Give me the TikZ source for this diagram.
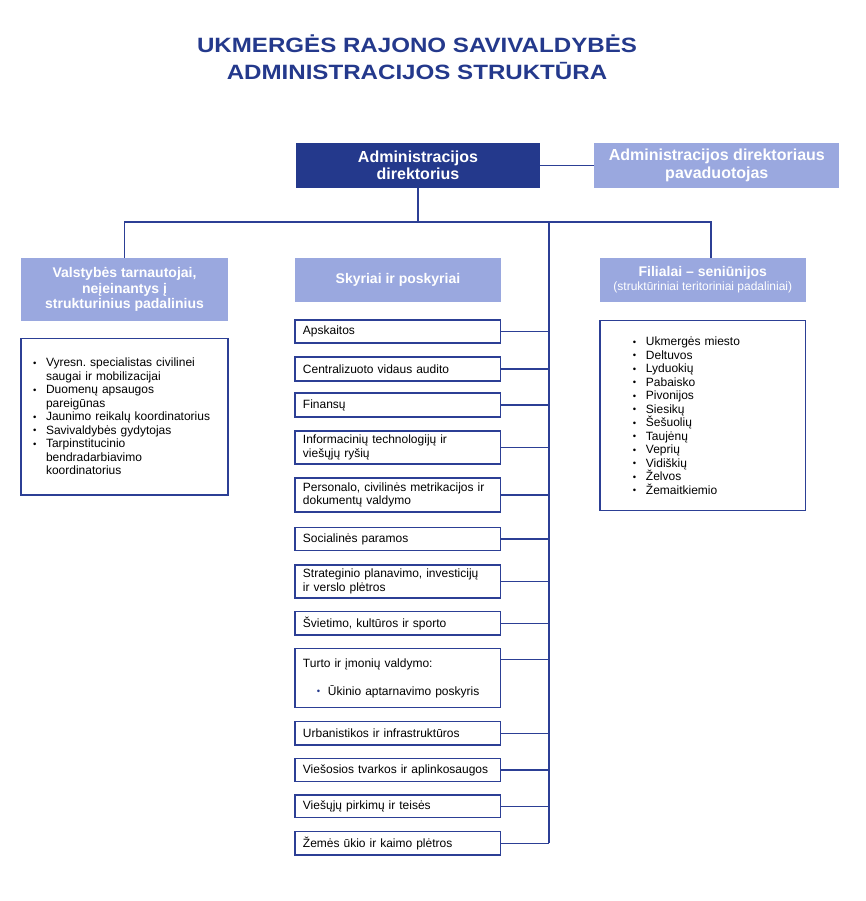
\documentclass[tikz,border=0pt]{standalone}
\usepackage{fontspec}
\setmainfont{Liberation Sans}
\newfontfamily\titlefont[FakeStretch=1.165]{Liberation Sans}
\usetikzlibrary{calc}
\frenchspacing
\definecolor{darkb}{RGB}{36,57,140}
\definecolor{lightb}{RGB}{154,168,223}
\definecolor{lineb}{RGB}{44,63,149}
\newcommand\bul{\makebox[13pt][l]{\raisebox{0.6pt}{\fontsize{9.5}{9}\selectfont •}}}
\newcommand\ind{\hspace*{13pt}}
\tikzset{
  head/.style={fill=lightb, text=white, font=\fontsize{14}{15.8}\selectfont\bfseries, align=center, inner sep=0pt},
  subbox/.style={draw=lineb, line width=1.5pt, fill=white, minimum height=#1, text width=189.7pt, inner xsep=8pt, inner ysep=0pt, align=left, font=\fontsize{12}{13.5}\selectfont},
  listbox/.style={draw=lineb, line width=1.5pt, fill=white, align=left, inner ysep=0pt, font=\fontsize{12}{13.5}\selectfont},
  conn/.style={draw=lineb, line width=1.5pt}
}
\begin{document}
\begin{tikzpicture}[x=1pt,y=-1pt]
\useasboundingbox (0,0) rectangle (865,901);
% title
\node[text=darkb, font=\titlefont\fontsize{20.7}{27}\selectfont\bfseries, align=center] (title) at (417,57) {UKMERGĖS RAJONO SAVIVALDYBĖS\\ADMINISTRACIJOS STRUKTŪRA};
% top boxes
\node[fill=darkb, text=white, font=\fontsize{16}{17.5}\selectfont\bfseries, align=center, minimum width=244pt, minimum height=45pt, inner sep=0pt] (dir) at (418,165.5) {Administracijos\\direktorius};
\node[fill=lightb, text=white, font=\fontsize{16}{17.5}\selectfont\bfseries, align=center, minimum width=245pt, minimum height=45pt, inner sep=0pt] (dep) at (716.8,165.5) {Administracijos direktoriaus\\pavaduotojas};
% second row heads
\node[head, minimum width=207pt, minimum height=63pt] (val) at (124.5,289.5) {Valstybės tarnautojai,\\neįeinantys į\\strukturinius padalinius};
\node[head, minimum width=206pt, minimum height=44pt] (sky) at (398,279.7) {Skyriai ir poskyriai};
\node[head, minimum width=206pt, minimum height=44pt] (fil) at (702.8,279.8) {Filialai – seniūnijos\\[-1.5pt]{\fontsize{12}{13}\selectfont\mdseries (struktūriniai teritoriniai padaliniai)}};
% lists
\node[listbox, text width=183pt, inner xsep=12pt, minimum height=156.7pt] (vallist) at (124.5,416.7) {\bul Vyresn. specialistas civilinei\\\ind saugai ir mobilizacijai\\\bul Duomenų apsaugos\\\ind pareigūnas\\\bul Jaunimo reikalų koordinatorius\\\bul Savivaldybės gydytojas\\\bul Tarpinstitucinio\\\ind bendradarbiavimo\\\ind koordinatorius};
\node[listbox, text width=139.7pt, inner xsep=33pt, minimum height=190pt] (fillist) at (702.8,415.7) {\bul Ukmergės miesto\\\bul Deltuvos\\\bul Lyduokių\\\bul Pabaisko\\\bul Pivonijos\\\bul Siesikų\\\bul Šešuolių\\\bul Taujėnų\\\bul Veprių\\\bul Vidiškių\\\bul Želvos\\\bul Žemaitkiemio};
% sub boxes
\node[subbox=23pt] (b1) at (397.8,331.5) {Apskaitos};
\node[subbox=24pt] (b2) at (397.8,369) {Centralizuoto vidaus audito};
\node[subbox=24pt] (b3) at (397.8,405) {Finansų};
\node[subbox=33pt] (b4) at (397.8,447.5) {Informacinių technologijų ir\\viešųjų ryšių};
\node[subbox=34pt] (b5) at (397.8,495) {Personalo, civilinės metrikacijos ir\\dokumentų valdymo};
\node[subbox=23pt] (b6) at (397.8,539.2) {Socialinės paramos};
\node[subbox=33pt] (b7) at (397.8,581.5) {Strateginio planavimo, investicijų\\ir verslo plėtros};
\node[subbox=23.3pt] (b8) at (397.8,623.3) {Švietimo, kultūros ir sporto};
\node[subbox=59.4pt] (b9) at (397.8,678) {Turto ir įmonių valdymo:\\[14.5pt]\hspace*{14pt}\makebox[11pt][l]{\raisebox{0.6pt}{\fontsize{9.5}{9}\selectfont\textcolor{darkb}{•}}}Ūkinio aptarnavimo poskyris};
\node[subbox=23.3pt] (b10) at (397.8,733.3) {Urbanistikos ir infrastruktūros};
\node[subbox=23.4pt] (b11) at (397.8,770) {Viešosios tvarkos ir aplinkosaugos};
\node[subbox=22.7pt] (b12) at (397.8,806.3) {Viešųjų pirkimų ir teisės};
\node[subbox=23.3pt] (b13) at (397.8,843.3) {Žemės ūkio ir kaimo plėtros};
% coordinates
\coordinate (hub) at (418,222);
\coordinate (trunktop) at (549,222);
% connectors
\draw[conn] (dir.east) -- (dep.west);
\draw[conn] (dir.south) -- (hub);
\draw[conn] (val.north) -- (val.north |- hub) -- ([xshift=8pt]fil.north |- hub) -- ([xshift=8pt]fil.north);
\draw[conn] (trunktop) -- (b13.east -| trunktop);
\foreach \b in {b1,b2,b3,b4,b5,b6,b7,b8,b10,b11,b12,b13}{
  \draw[conn] (\b.east) -- (\b.east -| trunktop);
}
\draw[conn] ([yshift=-11.7pt]b9.north east) -- ([yshift=-11.7pt]b9.north east -| trunktop);
\end{tikzpicture}
\end{document}
